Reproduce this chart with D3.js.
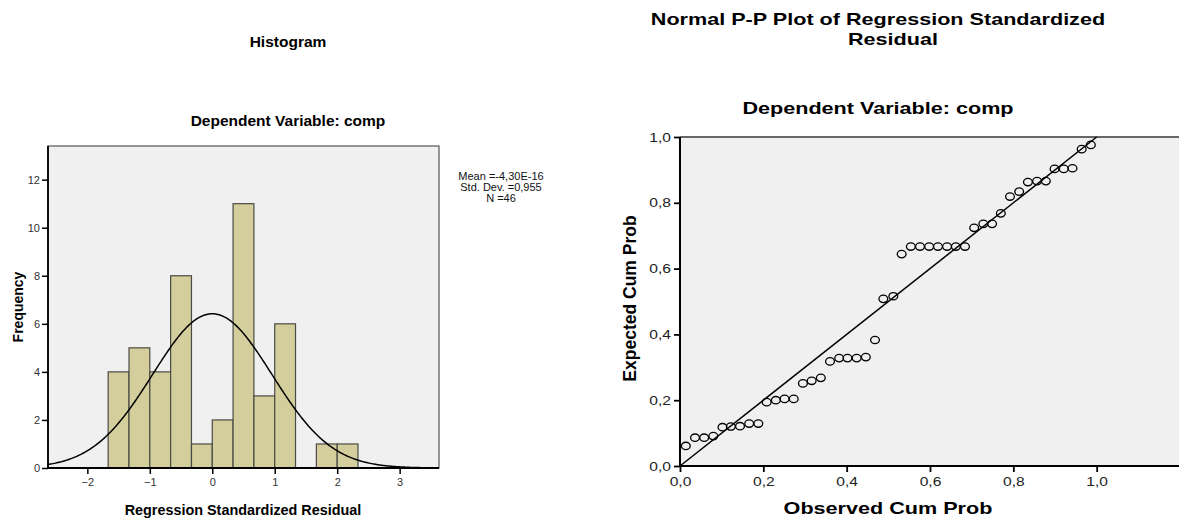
<!DOCTYPE html>
<html>
<head>
<meta charset="utf-8">
<script src="https://cdn.jsdelivr.net/npm/d3@7"></script>
<style>
  body { margin: 0; background: #fff; }
  text { font-family: "Liberation Sans", Arial, sans-serif; }
</style>
</head>
<body>
<svg id="chart" width="1179" height="520"></svg>
<script>
// ---- Histogram of standardized residuals ----
const binEdges  = [-1.667, -1.333, -1.000, -0.667, -0.333, 0.000, 0.333, 0.667, 1.000, 1.333, 1.667, 2.000, 2.333];
const binCounts = [4, 5, 4, 8, 1, 2, 11, 3, 6, 0, 1, 1];
const freqTicks  = [0, 2, 4, 6, 8, 10, 12];
const residTicks = [-2, -1, 0, 1, 2, 3];
const fitMean = -4.30e-16;
const fitSd = 0.955;
const fitN = 46;
const statLines = ["Mean =-4,30E-16", "Std. Dev. =0,955", "N =46"];

// ---- Normal P-P plot ----
const observedCum = [0.014, 0.036, 0.058, 0.080, 0.102, 0.122, 0.144, 0.166, 0.188, 0.208,
                     0.230, 0.251, 0.273, 0.295, 0.316, 0.338, 0.360, 0.382, 0.402, 0.424,
                     0.446, 0.468, 0.488, 0.512, 0.532, 0.554, 0.576, 0.598, 0.619, 0.641,
                     0.662, 0.684, 0.706, 0.728, 0.749, 0.770, 0.792, 0.814, 0.835, 0.857,
                     0.878, 0.899, 0.921, 0.942, 0.964, 0.986];
const expectedCum = [0.061, 0.086, 0.086, 0.091, 0.118, 0.120, 0.121, 0.129, 0.129, 0.194,
                     0.200, 0.204, 0.204, 0.251, 0.259, 0.268, 0.318, 0.328, 0.328, 0.328,
                     0.331, 0.383, 0.508, 0.516, 0.644, 0.667, 0.667, 0.667, 0.667, 0.667,
                     0.667, 0.667, 0.724, 0.736, 0.736, 0.768, 0.819, 0.834, 0.863, 0.866,
                     0.866, 0.903, 0.903, 0.905, 0.963, 0.976];
const probTicks = [0, 0.2, 0.4, 0.6, 0.8, 1.0];
const refLine = [0, 1];

const fmtComma = d => d3.format(".1f")(d).replace(".", ",");

const svg = d3.select("#chart");

// Widen horizontal text by a factor of its natural width
function stretch(sel, factor) {
  sel.each(function () {
    const w = this.getComputedTextLength();
    d3.select(this).attr("textLength", w * factor).attr("lengthAdjust", "spacingAndGlyphs");
  });
}

// ================= Histogram =================
{
  const L = 48, R = 439, T = 146, B = 468;
  const x = d3.scaleLinear().domain([-2.63, 3.63]).range([L, R]);
  const y = d3.scaleLinear().domain([0, 13.4]).range([B, T]);
  const g = svg.append("g");

  g.append("clipPath").attr("id", "histClip")
    .append("rect").attr("x", L).attr("y", T).attr("width", R - L).attr("height", B - T);

  g.append("rect").attr("x", L).attr("y", T).attr("width", R - L).attr("height", B - T)
    .attr("fill", "#f0f0f0");

  const bins = binCounts.map((c, i) => ({ x0: binEdges[i], x1: binEdges[i + 1], n: c }))
    .filter(b => b.n > 0);
  g.selectAll("rect.bar").data(bins).join("rect").attr("class", "bar")
    .attr("x", d => x(d.x0)).attr("width", d => x(d.x1) - x(d.x0))
    .attr("y", d => y(d.n)).attr("height", d => y(0) - y(d.n))
    .attr("fill", "#d3ce9b").attr("stroke", "#4a4a44").attr("stroke-width", 1.2);

  // fitted normal curve scaled to the frequency axis
  const bw = binEdges[1] - binEdges[0];
  const pdf = v => Math.exp(-0.5 * ((v - fitMean) / fitSd) ** 2) / (fitSd * Math.sqrt(2 * Math.PI));
  const xs = d3.range(-2.63, 3.64, 0.02);
  g.append("path").datum(xs)
    .attr("clip-path", "url(#histClip)")
    .attr("d", d3.line().x(v => x(v)).y(v => y(fitN * bw * pdf(v))))
    .attr("fill", "none").attr("stroke", "#000").attr("stroke-width", 1.5);

  // frame
  g.append("rect").attr("x", L).attr("y", T).attr("width", R - L).attr("height", B - T)
    .attr("fill", "none").attr("stroke", "#555").attr("stroke-width", 1.2);

  const ya = g.append("g").attr("transform", `translate(${L},0)`)
    .call(d3.axisLeft(y).tickValues(freqTicks).tickSize(6).tickPadding(2).tickFormat(d3.format("d")));
  const xa = g.append("g").attr("transform", `translate(0,${B})`)
    .call(d3.axisBottom(x).tickValues(residTicks).tickSize(6).tickPadding(4).tickFormat(d3.format("d")));
  [ya, xa].forEach(a => {
    a.select(".domain").attr("stroke", "#000").attr("stroke-width", 1.8);
    a.selectAll(".tick line").attr("stroke", "#000").attr("stroke-width", 1.5);
    a.selectAll(".tick text").attr("fill", "#333").style("font-size", "11px");
  });
  ya.select(".domain").attr("d", `M0,${T}V${B}`);
  xa.select(".domain").attr("d", `M${L},0H${R}`);

  g.append("text").attr("x", 288).attr("y", 47).attr("text-anchor", "middle")
    .style("font-size", "15.5px").style("font-weight", "bold").text("Histogram");
  g.append("text").attr("x", 288).attr("y", 126).attr("text-anchor", "middle")
    .style("font-size", "15.5px").style("font-weight", "bold").text("Dependent Variable: comp");
  g.append("text").attr("x", 243).attr("y", 515).attr("text-anchor", "middle")
    .style("font-size", "14.4px").style("font-weight", "bold").text("Regression Standardized Residual");
  g.append("text").attr("transform", `translate(23,${(T + B) / 2}) rotate(-90)`).attr("text-anchor", "middle")
    .style("font-size", "14px").style("font-weight", "bold").text("Frequency");

  g.selectAll("text.stat").data(statLines).join("text").attr("class", "stat")
    .attr("x", 501).attr("y", (d, i) => 180 + i * 11).attr("text-anchor", "middle")
    .style("font-size", "11px").attr("fill", "#111").text(d => d);
}

// ================= Normal P-P plot =================
{
  const L = 680, R = 1180, T = 137, B = 466;
  const x = d3.scaleLinear().domain([0, 1.2]).range([L, R]);
  const y = d3.scaleLinear().domain([0, 1]).range([B, T]);
  const g = svg.append("g");

  g.append("rect").attr("x", L).attr("y", T).attr("width", R - L).attr("height", B - T)
    .attr("fill", "#f0f0f0");
  g.append("line").attr("x1", L).attr("x2", R).attr("y1", T).attr("y2", T)
    .attr("stroke", "#666").attr("stroke-width", 2);

  g.append("line")
    .attr("x1", x(refLine[0])).attr("y1", y(refLine[0]))
    .attr("x2", x(refLine[1])).attr("y2", y(refLine[1]))
    .attr("stroke", "#000").attr("stroke-width", 1.5);

  const pts = observedCum.map((o, i) => ({ o, e: expectedCum[i] }));
  g.selectAll("ellipse").data(pts).join("ellipse")
    .attr("cx", d => x(d.o)).attr("cy", d => y(d.e))
    .attr("rx", 4.4).attr("ry", 3.7)
    .attr("fill", "none").attr("stroke", "#000").attr("stroke-width", 1.3);

  const ya = g.append("g").attr("transform", `translate(${L},0)`)
    .call(d3.axisLeft(y).tickValues(probTicks).tickSize(6).tickPadding(3).tickFormat(fmtComma));
  const xa = g.append("g").attr("transform", `translate(0,${B})`)
    .call(d3.axisBottom(x).tickValues(probTicks).tickSize(6).tickPadding(5).tickFormat(fmtComma));
  [ya, xa].forEach(a => {
    a.select(".domain").attr("stroke", "#000").attr("stroke-width", 2);
    a.selectAll(".tick line").attr("stroke", "#000").attr("stroke-width", 1.8);
    a.selectAll(".tick text").attr("fill", "#222").style("font-size", "13px");
  });
  ya.select(".domain").attr("d", `M0,${T}V${B}`);
  xa.select(".domain").attr("d", `M${L},0H${R}`);
  stretch(ya.selectAll(".tick text"), 1.2);
  stretch(xa.selectAll(".tick text"), 1.2);

  const t1 = g.append("text").attr("x", 878).attr("y", 25).attr("text-anchor", "middle")
    .style("font-size", "17px").style("font-weight", "bold").text("Normal P-P Plot of Regression Standardized");
  const t2 = g.append("text").attr("x", 893).attr("y", 45).attr("text-anchor", "middle")
    .style("font-size", "17px").style("font-weight", "bold").text("Residual");
  const t3 = g.append("text").attr("x", 878).attr("y", 114).attr("text-anchor", "middle")
    .style("font-size", "17px").style("font-weight", "bold").text("Dependent Variable: comp");
  const t4 = g.append("text").attr("x", 888).attr("y", 514).attr("text-anchor", "middle")
    .style("font-size", "17px").style("font-weight", "bold").text("Observed Cum Prob");
  [t1, t2, t3, t4].forEach(t => stretch(t, 1.27));
  g.append("text").attr("transform", `translate(636,${(T + B) / 2 - 3}) rotate(-90)`).attr("text-anchor", "middle")
    .style("font-size", "17.5px").style("font-weight", "bold").text("Expected Cum Prob");
}
</script>
</body>
</html>
